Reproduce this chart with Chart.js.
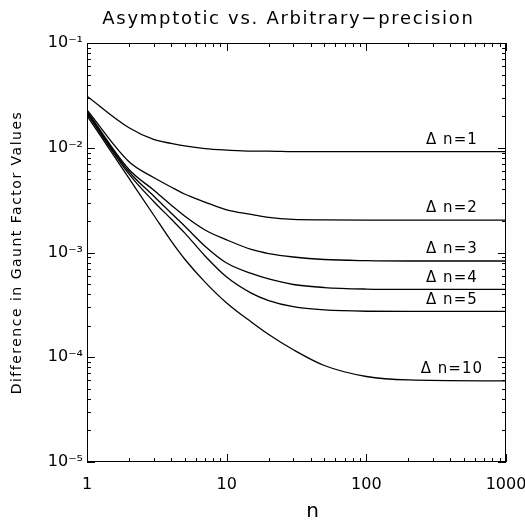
<!DOCTYPE html>
<html>
<head>
<meta charset="utf-8">
<script src="https://cdn.jsdelivr.net/npm/chart.js@4.4.1/dist/chart.umd.min.js"></script>
<style>
  html, body { margin: 0; padding: 0; background: #fff; overflow: hidden; }
  #wrap { width: 525px; height: 525px; }
</style>
</head>
<body>
<div id="wrap"><canvas id="gauntChart" width="525" height="525"></canvas></div>
<script>
// values
var nValues = [1, 2, 3, 4, 5, 7, 10, 15, 20, 30, 50, 100, 200, 1000];

var dn1  = [0.031, 0.0155, 0.0120, 0.0110, 0.0104, 0.0098, 0.0095, 0.0093, 0.0093, 0.0092, 0.0092, 0.0092, 0.0092, 0.0092];
var dn2  = [0.0230, 0.00736, 0.0052, 0.00422, 0.00362, 0.00303, 0.00255, 0.00231, 0.00216, 0.00207, 0.00205, 0.00204, 0.00204, 0.00204];
var dn3  = [0.0224, 0.0062, 0.00395, 0.00284, 0.00223, 0.00164, 0.00132, 0.00107, 0.000977, 0.000906, 0.000857, 0.000836, 0.00083, 0.00083];
var dn4  = [0.0218, 0.0059, 0.00346, 0.00238, 0.00179, 0.00115, 0.000794, 0.000631, 0.000559, 0.000495, 0.000463, 0.000448, 0.000445, 0.000445];
var dn5  = [0.0212, 0.0056, 0.00307, 0.00209, 0.00154, 0.000927, 0.000583, 0.00041, 0.000348, 0.000304, 0.000283, 0.000275, 0.000274, 0.000274];
var dn10 = [0.0202, 0.0051, 0.00228, 0.00129, 0.000867, 0.000522, 0.00033, 0.000217, 0.000165, 0.000118, 0.0000834, 0.0000655, 0.0000607, 0.0000595];

var seriesLabels = ['\u0394 n=1', '\u0394 n=2', '\u0394 n=3', '\u0394 n=4', '\u0394 n=5', '\u0394 n=10'];
var seriesValues = [dn1, dn2, dn3, dn4, dn5, dn10];
var labelN = 410;

var xTickValues = [1, 10, 100, 1000];
var xTickLabels = ['1', '10', '100', '1000'];
var yTickValues = [1e-5, 1e-4, 1e-3, 1e-2, 1e-1];
var yTickLabels = ['10\u207B\u2075', '10\u207B\u2074', '10\u207B\u00B3', '10\u207B\u00B2', '10\u207B\u00B9'];

var chartTitle = 'Asymptotic vs. Arbitrary\u2212precision';
var xTitle = 'n';
var yTitle = 'Difference in Gaunt Factor Values';

var FONT = 'DejaVu Sans';

function findLabel(v, vals, texts) {
    for (var i = 0; i < vals.length; i++) {
        if (Math.abs(Math.log10(v) - Math.log10(vals[i])) < 1e-6) return texts[i];
    }
    return '';
}

var datasets = seriesValues.map(function(vals, i) {
    return {
        label: seriesLabels[i],
        data: nValues.map(function(n, j) { return {x: n, y: vals[j]}; }),
        borderColor: '#000',
        borderWidth: 1.3,
        pointRadius: 0,
        fill: false,
        cubicInterpolationMode: 'monotone'
    };
});

// frame with inward ticks on all four sides, titles and the curve labels
var framePlugin = {
    id: 'frame',
    afterDatasetsDraw: function(chart) {
        var ctx = chart.ctx, a = chart.chartArea;
        var xs = chart.scales.x, ys = chart.scales.y;
        ctx.save();
        ctx.strokeStyle = '#000';
        ctx.lineWidth = 1;
        ctx.strokeRect(a.left + 0.5, a.top + 0.5, a.right - a.left - 1, a.bottom - a.top - 1);
        ctx.beginPath();
        for (var e = 0; e < 3; e++) {
            for (var k = 1; k <= 10; k++) {
                var v = k * Math.pow(10, e);
                if (v > 1000) break;
                var px = Math.round(xs.getPixelForValue(v)) + 0.5;
                var len = (k === 1 || k === 10) ? 8 : 4;
                ctx.moveTo(px, a.bottom); ctx.lineTo(px, a.bottom - len);
                ctx.moveTo(px, a.top); ctx.lineTo(px, a.top + len);
            }
        }
        for (var e2 = -5; e2 < -1; e2++) {
            for (var k2 = 1; k2 <= 10; k2++) {
                var v2 = k2 * Math.pow(10, e2);
                var py = Math.round(ys.getPixelForValue(v2)) + 0.5;
                var len2 = (k2 === 1 || k2 === 10) ? 8 : 4;
                ctx.moveTo(a.left, py); ctx.lineTo(a.left + len2, py);
                ctx.moveTo(a.right, py); ctx.lineTo(a.right - len2, py);
            }
        }
        ctx.stroke();

        ctx.fillStyle = '#000';
        ctx.textAlign = 'center';

        // curve labels
        ctx.letterSpacing = '1px';
        ctx.font = '15px "' + FONT + '"';
        ctx.textBaseline = 'bottom';
        chart.data.datasets.forEach(function(ds) {
            var last = ds.data[ds.data.length - 1];
            ctx.fillText(ds.label, xs.getPixelForValue(labelN), ys.getPixelForValue(last.y) - 4);
        });

        // main title
        ctx.letterSpacing = '1.7px';
        ctx.font = '18px "' + FONT + '"';
        ctx.textBaseline = 'middle';
        ctx.fillText(chartTitle, (a.left + a.right) / 2 - 8, 19);

        // x title
        ctx.letterSpacing = '0px';
        ctx.font = '20px "' + FONT + '"';
        ctx.fillText(xTitle, (a.left + a.right) / 2 + 16, 512);

        // y title
        ctx.letterSpacing = '1.5px';
        ctx.font = '14px "' + FONT + '"';
        ctx.translate(17, (a.top + a.bottom) / 2);
        ctx.rotate(-Math.PI / 2);
        ctx.fillText(yTitle, 0, 0);
        ctx.restore();
    }
};

var ctx = document.getElementById('gauntChart').getContext('2d');
var gauntChart = new Chart(ctx, {
    type: 'line',
    data: { datasets: datasets },
    options: {
        responsive: false,
        animation: false,
        layout: { padding: { left: 0, right: 19, top: 43, bottom: 0 } },
        plugins: {
            legend: { display: false },
            tooltip: { enabled: false },
            title: { display: false }
        },
        scales: {
            x: {
                type: 'logarithmic',
                min: 1,
                max: 1000,
                grid: { display: false, drawTicks: false },
                border: { display: false },
                ticks: {
                    autoSkip: false,
                    maxRotation: 0,
                    padding: 13,
                    color: '#000',
                    font: { family: FONT, size: 16 },
                    callback: function(v) { return findLabel(v, xTickValues, xTickLabels); }
                },
                afterFit: function(s) { s.height = 63; s.paddingLeft = 0; s.paddingRight = 0; }
            },
            y: {
                type: 'logarithmic',
                min: 1e-5,
                max: 1e-1,
                grid: { display: false, drawTicks: false },
                border: { display: false },
                ticks: {
                    autoSkip: false,
                    padding: 4,
                    color: '#000',
                    font: { family: FONT, size: 16 },
                    callback: function(v) { return findLabel(v, yTickValues, yTickLabels); }
                },
                afterFit: function(s) { s.width = 87; s.paddingTop = 0; s.paddingBottom = 0; }
            }
        }
    },
    plugins: [framePlugin]
});
</script>
</body>
</html>
